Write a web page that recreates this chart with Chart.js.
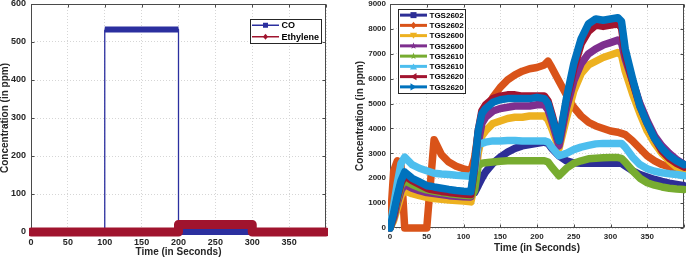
<!DOCTYPE html>
<html>
<head>
<meta charset="utf-8">
<title>Gas concentration and sensor response</title>
<script src="https://cdn.jsdelivr.net/npm/chart.js@4.4.1/dist/chart.umd.min.js"></script>
<style>
  html, body { margin: 0; padding: 0; background: #fff; }
  #wrap { display: flex; width: 686px; height: 258px; }
  .panel { position: relative; width: 343px; height: 258px; }
</style>
</head>
<body>
<div id="wrap">
  <div class="panel"><canvas id="gasChart"></canvas></div>
  <div class="panel"><canvas id="sensorChart"></canvas></div>
</div>
<script>
// Left panel: injected gas (ppm) against time (s)
const coSeconds = [0, 100, 100, 200, 200, 300, 400];
const coPpm = [0, 0, 533, 533, 0, 0, 0];
const ethyleneSeconds = [0, 200, 200, 300, 300, 400];
const ethylenePpm = [0, 0, 20, 20, 0, 0];

// Right panel: sensor readings, all sampled at the same times
const seconds = [0, 5, 10, 15, 20, 30, 40, 50, 55, 60, 70, 80, 90, 100, 110, 115, 120, 125, 130, 140,
  150, 160, 170, 180, 190, 200, 210, 215, 220, 230, 240, 250, 260, 270, 280, 290, 300, 310, 315, 320,
  330, 340, 350, 360, 370, 380, 390, 400];
const tgs2602a = [0, 500, 1200, 1800, 2100, 1900, 1750, 1620, 1580, 1550, 1500, 1450, 1420, 1400, 1380,
  1420, 1700, 2000, 2250, 2600, 2850, 3050, 3200, 3300, 3350, 3400, 3450, 3400, 3200, 2900,
  2700, 2620, 2600, 2600, 2600, 2600, 2600, 2600, 2600, 2500, 2300, 2150, 2050, 1950, 1870, 1800, 1750, 1700];
const tgs2602b = [0, 2300, 2700, 2500, 0, 0, 0, 0, 1800, 3550, 2950, 2650, 2480, 2380, 2300,
  2800, 3800, 4300, 4700, 5250, 5650, 5950, 6150, 6300, 6400, 6450, 6550, 6700, 6450, 5900,
  5350, 4850, 4500, 4250, 4100, 4000, 3900, 3850, 3800, 3750, 3500, 3200, 2900, 2700, 2550, 2450, 2350, 2300];
const tgs2600a = [0, 300, 800, 1300, 1500, 1380, 1300, 1230, 1200, 1180, 1150, 1120, 1100, 1080, 1050,
  1700, 3000, 3700, 3900, 4200, 4300, 4400, 4450, 4450, 4500, 4500, 4500, 4350, 4000, 3200,
  4400, 5500, 6200, 6550, 6700, 6850, 6950, 7050, 6950, 6300, 5400, 4600, 3900, 3400, 3000, 2700, 2450, 2300];
const tgs2600b = [0, 400, 1000, 1500, 1750, 1600, 1500, 1420, 1400, 1380, 1340, 1300, 1280, 1260, 1250,
  2000, 3400, 4200, 4450, 4700, 4800, 4850, 4900, 4900, 4900, 4950, 4950, 4750, 4300, 3300,
  4800, 5900, 6600, 7000, 7200, 7350, 7450, 7550, 7450, 6800, 5900, 5000, 4300, 3700, 3300, 3000, 2750, 2550];
const tgs2610a = [0, 500, 1100, 1700, 1900, 1750, 1620, 1530, 1500, 1470, 1420, 1380, 1350, 1320, 1300,
  1500, 2500, 2600, 2620, 2650, 2680, 2700, 2700, 2700, 2700, 2700, 2700, 2650, 2450, 2100,
  2400, 2600, 2700, 2780, 2800, 2820, 2830, 2830, 2800, 2650, 2300, 2000, 1820, 1720, 1650, 1600, 1570, 1550];
const tgs2610b = [0, 900, 1800, 2600, 2850, 2550, 2400, 2300, 2250, 2200, 2170, 2150, 2120, 2100, 2080,
  2300, 3350, 3400, 3450, 3500, 3500, 3520, 3520, 3500, 3500, 3500, 3500, 3450, 3250, 2900,
  3000, 3150, 3250, 3320, 3380, 3400, 3400, 3400, 3400, 3250, 2850, 2550, 2380, 2280, 2220, 2180, 2150, 2100];
const tgs2620a = [0, 500, 1200, 1800, 2100, 1900, 1750, 1600, 1550, 1520, 1470, 1430, 1400, 1370, 1350,
  2400, 3900, 4700, 4950, 5200, 5300, 5350, 5350, 5300, 5300, 5300, 5300, 5100, 4600, 3500,
  5100, 6400, 7400, 7900, 8150, 8100, 8150, 8200, 8050, 7000, 5900, 4900, 4200, 3600, 3100, 2800, 2600, 2450];
const tgs2620b = [0, 600, 1300, 1900, 2250, 2000, 1850, 1700, 1680, 1650, 1600, 1550, 1510, 1480, 1460,
  2500, 3900, 4600, 4800, 5050, 5150, 5200, 5200, 5200, 5200, 5250, 5200, 5000, 4500, 3500,
  5200, 6600, 7600, 8200, 8400, 8350, 8400, 8450, 8300, 7200, 6000, 4900, 4200, 3600, 3200, 2900, 2700, 2550];

const sensorNames = ['TGS2602', 'TGS2602', 'TGS2600', 'TGS2600', 'TGS2610', 'TGS2610', 'TGS2620', 'TGS2620'];
const sensorValues = [tgs2602a, tgs2602b, tgs2600a, tgs2600b, tgs2610a, tgs2610b, tgs2620a, tgs2620b];
const sensorColors = ['#2d2e96', '#D95319', '#EDB120', '#7E2F8E', '#77AC30', '#4DBEEE', '#A2142F', '#0072BD'];
const sensorMarkers = ['square', 'diamond', 'triDown', 'star', 'star', 'triUp', 'triLeft', 'triRight'];

const FONT = '"Liberation Sans", Arial, sans-serif';
const INK = '#262626';

function toPoints(xs, ys) {
  return xs.map((x, i) => ({ x: x, y: ys[i] }));
}

// small marker drawn on the legend sample line
function drawMarker(ctx, kind, x, y, r, color) {
  ctx.save();
  ctx.fillStyle = color;
  ctx.strokeStyle = color;
  ctx.lineWidth = 1;
  ctx.beginPath();
  if (kind === 'square') {
    ctx.rect(x - r, y - r, 2 * r, 2 * r);
  } else if (kind === 'diamond') {
    ctx.moveTo(x, y - r * 1.2); ctx.lineTo(x + r, y); ctx.lineTo(x, y + r * 1.2); ctx.lineTo(x - r, y);
  } else if (kind === 'triDown') {
    ctx.moveTo(x - r * 1.2, y - r); ctx.lineTo(x + r * 1.2, y - r); ctx.lineTo(x, y + r);
  } else if (kind === 'triUp') {
    ctx.moveTo(x - r * 1.2, y + r); ctx.lineTo(x + r * 1.2, y + r); ctx.lineTo(x, y - r);
  } else if (kind === 'triLeft') {
    ctx.moveTo(x + r, y - r * 1.2); ctx.lineTo(x + r, y + r * 1.2); ctx.lineTo(x - r, y);
  } else if (kind === 'triRight') {
    ctx.moveTo(x - r, y - r * 1.2); ctx.lineTo(x - r, y + r * 1.2); ctx.lineTo(x + r, y);
  } else {
    for (let k = 0; k < 10; k++) {
      const a = -Math.PI / 2 + k * Math.PI / 5;
      const rr = k % 2 ? r * 0.5 : r * 1.2;
      ctx.lineTo(x + rr * Math.cos(a), y + rr * Math.sin(a));
    }
  }
  ctx.closePath();
  ctx.fill();
  ctx.restore();
}

// MATLAB-style legend box inside the plot area
const boxLegend = {
  id: 'boxLegend',
  afterDraw(chart, args, opts) {
    const ctx = chart.ctx;
    const area = chart.chartArea;
    const sets = chart.data.datasets;
    const h = opts.rowHeight * sets.length + opts.padY * 2;
    const left = opts.align === 'right' ? area.right - opts.offsetX - opts.width : area.left + opts.offsetX;
    const top = area.top + opts.offsetY;
    ctx.save();
    ctx.fillStyle = '#fff';
    ctx.fillRect(left, top, opts.width, h);
    ctx.strokeStyle = INK;
    ctx.lineWidth = 1;
    ctx.strokeRect(Math.round(left) + 0.5, Math.round(top) + 0.5, opts.width, h);
    ctx.font = 'bold ' + opts.fontSize + 'px ' + FONT;
    ctx.textBaseline = 'middle';
    sets.forEach((ds, i) => {
      const y = top + opts.padY + opts.rowHeight * (i + 0.5);
      const x0 = left + 2;
      const x1 = x0 + opts.sampleWidth;
      ctx.strokeStyle = ds.borderColor;
      ctx.lineWidth = opts.lineWidth;
      ctx.beginPath();
      ctx.moveTo(x0, y);
      ctx.lineTo(x1, y);
      ctx.stroke();
      drawMarker(ctx, ds.marker, (x0 + x1) / 2, y, opts.markerSize, ds.borderColor);
      ctx.fillStyle = '#000';
      ctx.fillText(ds.label, x1 + 2.5, y + 0.5);
    });
    ctx.restore();
  }
};

// box around the plot area with short inward tick marks
const axesFrame = {
  id: 'axesFrame',
  beforeDatasetsDraw(chart) {
    const { ctx, chartArea: a, scales } = chart;
    const L = Math.round(a.left) + 0.5, R = Math.round(a.right) - 0.5;
    const T = Math.round(a.top) + 0.5, B = Math.round(a.bottom) - 0.5;
    ctx.save();
    ctx.strokeStyle = '#4a4a4a';
    ctx.lineWidth = 1;
    ctx.beginPath();
    scales.x.ticks.forEach(t => {
      const px = Math.round(scales.x.getPixelForValue(t.value)) + 0.5;
      ctx.moveTo(px, B); ctx.lineTo(px, B - 3);
      ctx.moveTo(px, T); ctx.lineTo(px, T + 3);
    });
    scales.y.ticks.forEach(t => {
      const py = Math.round(scales.y.getPixelForValue(t.value)) + 0.5;
      ctx.moveTo(L, py); ctx.lineTo(L + 3, py);
      ctx.moveTo(R, py); ctx.lineTo(R - 3, py);
    });
    ctx.stroke();
    ctx.strokeRect(L, T, R - L, B - T);
    ctx.restore();
  }
};

function axisOptions(cfg) {
  return {
    x: {
      type: 'linear',
      min: 0,
      max: 400,
      ticks: {
        stepSize: 50,
        padding: cfg.xTickPad,
        color: INK,
        font: { family: FONT, size: cfg.tickSize, weight: 'bold' },
        callback: v => (v >= 400 ? '' : String(v))
      },
      grid: { color: '#d6d6d6', drawTicks: false },
      border: { display: false, dash: [1, 2] },
      title: {
        display: true,
        text: 'Time (in Seconds)',
        color: INK,
        font: { family: FONT, size: 10, weight: 'bold', lineHeight: 1 },
        padding: { top: 0, bottom: cfg.xTitlePad }
      },
      afterFit(scale) {
        scale.height = cfg.xHeight;
        scale.paddingLeft = 0;
        scale.paddingRight = 0;
      }
    },
    y: {
      min: 0,
      max: cfg.yMax,
      ticks: {
        stepSize: cfg.yStep,
        padding: cfg.yTickPad,
        color: INK,
        font: { family: FONT, size: cfg.tickSize, weight: 'bold' },
        callback: v => String(v)
      },
      grid: { color: '#d6d6d6', drawTicks: false },
      border: { display: false, dash: [1, 2] },
      title: {
        display: true,
        text: 'Concentration (in ppm)',
        color: INK,
        font: { family: FONT, size: 10, weight: 'bold', lineHeight: 1 },
        padding: { top: cfg.yTitlePad, bottom: 0 }
      },
      afterFit(scale) {
        scale.width = cfg.yWidth;
        scale.paddingTop = 0;
        scale.paddingBottom = 0;
      }
    }
  };
}

new Chart(document.getElementById('gasChart'), {
  type: 'line',
  data: {
    datasets: [
      {
        label: 'CO',
        data: toPoints(coSeconds, coPpm),
        borderColor: '#2b2f9f',
        marker: 'square',
        order: 1,
        clip: { left: 2, top: 6, right: 2, bottom: 6 },
        borderCapStyle: 'butt',
        segment: {
          borderWidth: c => (c.p0.parsed.x === c.p1.parsed.x ? 1.3 : 6)
        }
      },
      {
        label: 'Ethylene',
        data: toPoints(ethyleneSeconds, ethylenePpm),
        borderColor: '#a0142e',
        marker: 'diamond',
        order: 0,
        clip: { left: 2, top: 6, right: 2, bottom: 6 },
        borderWidth: 9,
        borderCapStyle: 'round'
      }
    ]
  },
  options: {
    animation: false,
    responsive: true,
    maintainAspectRatio: false,
    parsing: false,
    elements: {
      point: { radius: 0, hoverRadius: 0 },
      line: { tension: 0, borderJoinStyle: 'round' }
    },
    layout: { padding: { left: 0, top: 4, right: 17, bottom: 0 } },
    scales: axisOptions({
      yMax: 600, yStep: 100, tickSize: 9, xHeight: 26, yWidth: 31,
      xTickPad: 5, yTickPad: 5, xTitlePad: 1, yTitlePad: 0
    }),
    plugins: {
      legend: { display: false },
      tooltip: { enabled: false },
      boxLegend: {
        align: 'right', offsetX: 5, offsetY: 15, width: 71, rowHeight: 11.5, padY: 0.5,
        sampleWidth: 27, fontSize: 9, lineWidth: 1.5, markerSize: 2.5
      }
    }
  },
  plugins: [axesFrame, boxLegend]
});

new Chart(document.getElementById('sensorChart'), {
  type: 'line',
  data: {
    datasets: sensorNames.map((name, i) => ({
      label: name,
      data: toPoints(seconds, sensorValues[i]),
      borderColor: sensorColors[i],
      marker: sensorMarkers[i],
      order: sensorNames.length - i,
      clip: { left: 2, top: 5, right: 2, bottom: 5 },
      borderWidth: 7.5,
      borderCapStyle: 'round'
    }))
  },
  options: {
    animation: false,
    responsive: true,
    maintainAspectRatio: false,
    parsing: false,
    elements: {
      point: { radius: 0, hoverRadius: 0 },
      line: { tension: 0, borderJoinStyle: 'round' }
    },
    layout: { padding: { left: 0, top: 4, right: 2, bottom: 0 } },
    scales: axisOptions({
      yMax: 9000, yStep: 1000, tickSize: 8, xHeight: 30, yWidth: 47,
      xTickPad: 4, yTickPad: 4, xTitlePad: 5, yTitlePad: 12
    }),
    plugins: {
      legend: { display: false },
      tooltip: { enabled: false },
      boxLegend: {
        align: 'left', offsetX: 8, offsetY: 5, width: 67, rowHeight: 10.25, padY: 1,
        sampleWidth: 27, fontSize: 8, lineWidth: 3, markerSize: 3
      }
    }
  },
  plugins: [axesFrame, boxLegend]
});
</script>
</body>
</html>
